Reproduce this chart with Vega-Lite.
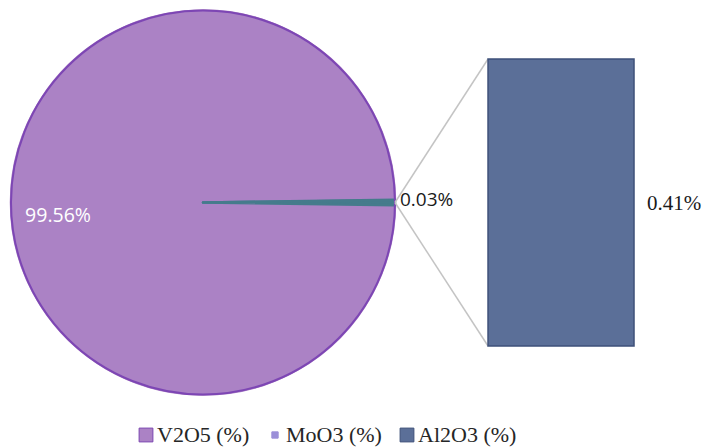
{
  "$schema": "https://vega.github.io/schema/vega-lite/v6.json",
  "width": 708,
  "height": 448,
  "autosize": {"type": "fit", "contains": "padding"},
  "padding": 0,
  "background": "white",
  "config": {
    "view": {"stroke": null},
    "axis": {"disable": true}
  },
  "datasets": {
    "pie": [
      {"component": "V2O5 (%)", "value": 99.56, "label": "99.56%"},
      {"component": "MoO3 (%)", "value": 0.03, "label": "0.03%"},
      {"component": "Other", "value": 0.41, "label": "0.41%"}
    ],
    "bar": [
      {"component": "Al2O3 (%)", "value": 0.41, "label": "0.41%"}
    ]
  },
  "layer": [
    {
      "data": {"name": "pie"},
      "mark": {"type": "arc", "outerRadius": 192, "strokeWidth": 2.5, "strokeJoin": "round"},
      "encoding": {
        "theta": {
          "field": "value",
          "type": "quantitative",
          "stack": true,
          "scale": {"domain": [0, 100], "range": [1.556973, 7.840158]}
        },
        "order": {"field": "value", "type": "quantitative", "sort": "ascending"},
        "stroke": {
          "field": "component",
          "type": "nominal",
          "scale": {
            "domain": ["V2O5 (%)", "MoO3 (%)", "Other"],
            "range": ["#ab82c5", "#457b8c", "#457b8c"]
          },
          "legend": null
        },
        "color": {
          "field": "component",
          "type": "nominal",
          "scale": {
            "domain": ["V2O5 (%)", "MoO3 (%)", "Al2O3 (%)", "Other"],
            "range": ["#ab82c5", "#9b8fd8", "#5b6f98", "#457b8c"]
          },
          "legend": {
            "orient": "none",
            "legendX": 135,
            "legendY": 424,
            "direction": "horizontal",
            "title": null,
            "values": ["V2O5 (%)", "MoO3 (%)", "Al2O3 (%)"],
            "symbolType": "square",
            "symbolSize": 190,
            "symbolStrokeWidth": 1,
            "labelFont": "Liberation Serif",
            "labelFontSize": 22,
            "labelColor": "#262626",
            "labelOffset": 0,
            "columnPadding": 14,
            "encode": {
              "symbols": {
                "update": {
                  "size": {"signal": "datum.value === 'MoO3 (%)' ? 40 : 190"},
                  "stroke": {"signal": "datum.value === 'V2O5 (%)' ? '#7b45b0' : datum.value === 'Al2O3 (%)' ? '#3d5078' : '#9b8fd8'"}
                }
              }
            }
          }
        },
        "x": {"datum": 0.2867, "type": "quantitative", "scale": {"domain": [0, 1], "nice": false, "zero": false}},
        "y": {"datum": 0.205, "type": "quantitative", "scale": {"domain": [-0.14571, 0.49429], "nice": false, "zero": false}}
      }
    },
    {
      "data": {"name": "bar"},
      "mark": {"type": "point", "shape": "circle", "filled": false, "size": 147456, "stroke": "#7d46b4", "strokeWidth": 2, "opacity": 1},
      "encoding": {
        "x": {"datum": 0.2867, "type": "quantitative"},
        "y": {"datum": 0.205, "type": "quantitative"}
      }
    },
    {
      "data": {"name": "bar"},
      "mark": {"type": "rule", "color": "#c4c4c4", "strokeWidth": 1.5},
      "encoding": {
        "x": {"datum": 0.6893, "type": "quantitative"},
        "y": {"field": "value", "type": "quantitative"},
        "x2": {"datum": 0.5579},
        "y2": {"datum": 0.205}
      }
    },
    {
      "data": {"name": "bar"},
      "mark": {"type": "rule", "color": "#c4c4c4", "strokeWidth": 1.5},
      "encoding": {
        "x": {"datum": 0.6893, "type": "quantitative"},
        "y": {"datum": 0, "type": "quantitative"},
        "x2": {"datum": 0.5579},
        "y2": {"datum": 0.205}
      }
    },
    {
      "data": {"name": "bar"},
      "mark": {"type": "rect", "stroke": "#3e5079", "strokeWidth": 1.5},
      "encoding": {
        "x": {"datum": 0.6893, "type": "quantitative"},
        "x2": {"datum": 0.8955},
        "y": {"field": "value", "type": "quantitative"},
        "y2": {"datum": 0},
        "color": {"field": "component", "type": "nominal"}
      }
    },
    {
      "data": {"name": "bar"},
      "mark": {"type": "text", "align": "left", "baseline": "middle", "dx": 13, "dy": 1, "font": "Liberation Serif", "fontSize": 21, "color": "#1a1a1a"},
      "encoding": {
        "x": {"datum": 0.8955, "type": "quantitative"},
        "y": {"datum": 0.205, "type": "quantitative"},
        "text": {"field": "label", "type": "nominal"}
      }
    },
    {
      "data": {"name": "pie"},
      "transform": [{"filter": "datum.component === 'V2O5 (%)'"}],
      "mark": {"type": "text", "radius": 145, "align": "center", "baseline": "middle", "dy": 9, "font": "Open Sans", "fontSize": 19.5, "color": "white"},
      "encoding": {
        "theta": {"field": "value", "type": "quantitative", "stack": true},
        "x": {"datum": 0.2867, "type": "quantitative"},
        "y": {"datum": 0.205, "type": "quantitative"},
        "text": {"field": "label", "type": "nominal"}
      }
    },
    {
      "data": {"name": "pie"},
      "transform": [{"filter": "datum.component === 'MoO3 (%)'"}],
      "mark": {"type": "text", "radius": 197, "align": "left", "baseline": "middle", "font": "Open Sans", "fontSize": 19, "color": "#1a1a1a"},
      "encoding": {
        "theta": {"field": "value", "type": "quantitative", "stack": true},
        "x": {"datum": 0.2867, "type": "quantitative"},
        "y": {"datum": 0.205, "type": "quantitative"},
        "text": {"field": "label", "type": "nominal"}
      }
    }
  ]
}
